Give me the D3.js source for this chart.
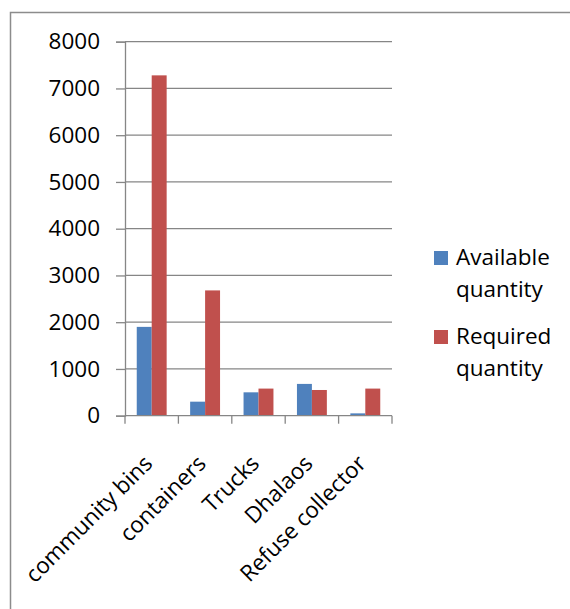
<!DOCTYPE html>
<html><head><meta charset="utf-8">
<script src="https://cdn.jsdelivr.net/npm/d3@7"></script>
<style>body{margin:0;background:#fff}svg{display:block}text{font-family:"Open Sans",sans-serif;fill:#000}</style>
</head><body><svg id="c" width="570" height="609"></svg>
<script>
const categories = ["community bins","containers","Trucks","Dhalaos","Refuse collector"];
const seriesNames = ["Available quantity","Required quantity"];
const available = [1900, 300, 500, 680, 50];
const required = [7280, 2680, 580, 550, 580];
const yTicks = [0,1000,2000,3000,4000,5000,6000,7000,8000];
const colors = ["#4F81BD","#C0504D"];

(function(){
const svg = d3.select("#c");
svg.append("rect").attr("x",10.5).attr("y",12.5).attr("width",600).attr("height",700)
  .attr("fill","none").attr("stroke","#8c8c8c").attr("stroke-width",1.5);

const pl=125, pr=392, pt=41.7, pb=415.7;
const x = d3.scaleBand().domain(categories).range([pl,pr]).paddingInner(0.44).paddingOuter(0.22);
const x0 = d3.scaleBand().domain(categories).range([pl,pr]);
const xs = d3.scaleBand().domain([0,1]).range([0,x.bandwidth()]);
const y = d3.scaleLinear().domain([0,8000]).range([pb,pt]);

svg.append("g").selectAll("line").data(yTicks.slice(1)).join("line")
  .attr("x1",pl).attr("x2",pr).attr("y1",d=>y(d)).attr("y2",d=>y(d))
  .attr("stroke","#868686").attr("stroke-width",1.3);

const data = categories.map((c,i)=>({c, v:[available[i], required[i]]}));
const g = svg.append("g").selectAll("g").data(data).join("g")
  .attr("transform",d=>`translate(${x(d.c)},0)`);
g.selectAll("rect").data(d=>d.v.map((v,k)=>({v,k}))).join("rect")
  .attr("x",d=>xs(d.k)).attr("width",xs.bandwidth())
  .attr("y",d=>y(d.v)).attr("height",d=>pb-y(d.v))
  .attr("fill",d=>colors[d.k]);

const ya = svg.append("g").attr("transform",`translate(${pl},0)`)
  .call(d3.axisLeft(y).tickValues(yTicks).tickSize(9).tickPadding(16).tickFormat(d3.format("d")));
ya.select(".domain").attr("stroke","#868686").attr("stroke-width",1.3);
ya.selectAll(".tick line").attr("stroke","#868686").attr("stroke-width",1.3);
ya.selectAll("text").style("font-size","22.5px").attr("fill","#000").attr("font-family",null);
ya.attr("font-family",null);

svg.append("line").attr("x1",pl).attr("x2",pr).attr("y1",pb).attr("y2",pb)
  .attr("stroke","#868686").attr("stroke-width",1.3);
const bounds = categories.map(c=>x0(c)).concat([pr]);
svg.append("g").selectAll("line").data(bounds).join("line")
  .attr("x1",d=>d).attr("x2",d=>d).attr("y1",pb).attr("y2",pb+8)
  .attr("stroke","#868686").attr("stroke-width",1.3);
svg.append("g").selectAll("text").data(categories).join("text")
  .attr("transform",d=>`translate(${x0(d)+x0.bandwidth()/2-9},${pb+38}) rotate(-45)`)
  .attr("text-anchor","end").attr("dy","0.7em")
  .style("font-size","22.5px").text(d=>d);

const lg = svg.append("g");
seriesNames.forEach((s,i)=>{
  const yy = 251 + i*79;
  lg.append("rect").attr("x",434).attr("y",yy).attr("width",14).attr("height",14).attr("fill",colors[i]);
  s.split(" ").forEach((w,j)=>{
    lg.append("text").attr("x",456).attr("y",yy+14+j*32).style("font-size","22.5px").text(w);
  });
});
})();
</script></body></html>
